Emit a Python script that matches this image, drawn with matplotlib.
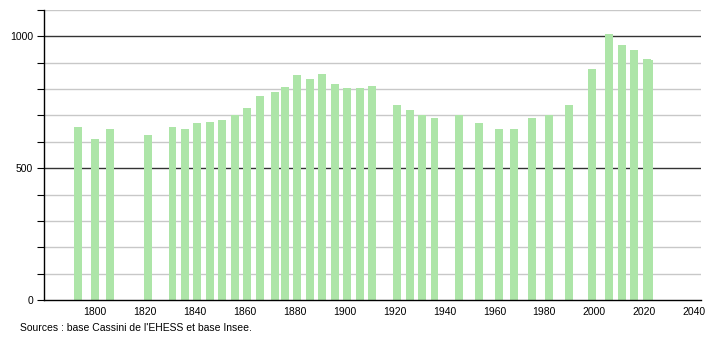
import matplotlib
matplotlib.use("Agg")
import matplotlib.pyplot as plt
import numpy as np

plt.rcParams["font.family"] = ["Liberation Sans", "DejaVu Sans"]

# census years and population
years = [1793, 1800, 1806, 1821, 1831, 1836, 1841, 1846, 1851, 1856,
         1861, 1866, 1872, 1876, 1881, 1886, 1891, 1896, 1901, 1906,
         1911, 1921, 1926, 1931, 1936, 1946, 1954, 1962, 1968, 1975,
         1982, 1990, 1999, 2006, 2011, 2016, 2021, 2022]
pop = [658, 609, 650, 627, 658, 650, 670, 677, 682, 702,
       730, 772, 788, 809, 854, 839, 859, 821, 806, 806,
       810, 740, 722, 700, 689, 702, 672, 650, 650, 691,
       700, 740, 877, 1008, 967, 947, 915, 909]

x_ticks = list(range(1800, 2041, 20))
y_labels = [0, 500, 1000]
source = "Sources : base Cassini de l'EHESS et base Insee."

fig = plt.figure(figsize=(7.1, 3.4), dpi=100)
ax = fig.add_axes([44 / 710, 40 / 340, 657 / 710, 290 / 340])

# grid: light every 100, dark at 500 and 1000
for v in range(100, 1101, 100):
    dark = v % 500 == 0
    ax.axhline(v, color="#333333" if dark else "#c8c8c8",
               lw=1.0, zorder=1)

ax.bar(years, pop, width=3.2, color="#ade5a8", zorder=2)

ax.set_xlim(1779.5, 2042.8)
ax.set_ylim(0, 1100)

ax.set_xticks(x_ticks)
ax.tick_params(axis="x", length=0, labelsize=7.5, pad=5)
ax.set_yticks(range(0, 1101, 100))
ax.set_yticklabels([str(v) if v in y_labels else "" for v in range(0, 1101, 100)])
ax.tick_params(axis="y", length=5, width=0.8, labelsize=7.5, pad=3)

for s in ["top", "right"]:
    ax.spines[s].set_visible(False)
ax.spines["left"].set_linewidth(1.0)
ax.spines["bottom"].set_linewidth(1.0)

fig.text(20 / 710, 1 - 328 / 340, source, fontsize=7.5, va="center", ha="left")

fig.savefig("out.png", dpi=100)
